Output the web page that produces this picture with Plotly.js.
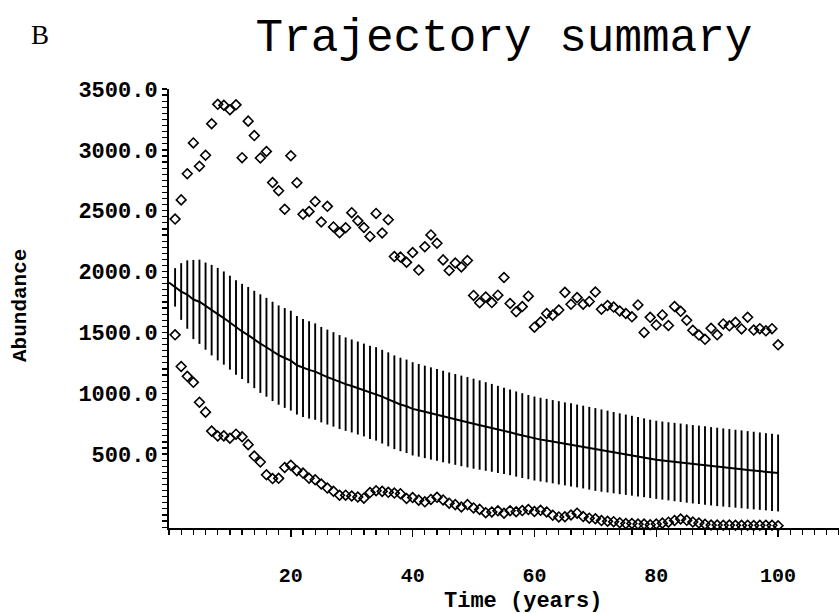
<!DOCTYPE html>
<html>
<head>
<meta charset="utf-8">
<script src="https://cdn.plot.ly/plotly-3.0.1.min.js"></script>
<style>html,body{margin:0;padding:0;background:#fff;}#chart{width:839px;height:613px;}</style>
</head>
<body>
<div id="chart"></div>
<script>
// Years for the mean trajectory (t = 0..100) and for the extremes (t = 1..100)
const yearsMean = Array.from({length: 101}, (_, i) => i);
const yearsExt = Array.from({length: 100}, (_, i) => i + 1);

// Mean abundance, t = 0..100
const meanAbundance = [
  1910, 1870, 1836, 1811, 1770, 1752, 1716, 1683, 1650, 1618,
  1580, 1540, 1508, 1478, 1442, 1408, 1378, 1344, 1314, 1290,
  1268, 1230, 1208, 1192, 1178, 1153, 1133, 1114, 1092, 1075,
  1060, 1043, 1027, 1008, 995, 972, 950, 926, 908, 893,
  872, 860, 847, 834, 822, 809, 797, 785, 773, 762,
  750, 739, 727, 716, 703, 691, 679, 665, 652, 640,
  628, 619, 611, 602, 593, 584, 576, 567, 558, 548,
  538, 529, 521, 512, 503, 495, 487, 478, 470, 461,
  453, 447, 441, 435, 429, 423, 417, 412, 406, 400,
  395, 390, 385, 380, 375, 370, 365, 360, 355, 350,
  345
];

// Standard deviation (error bar half-length), t = 0..100
const sdAbundance = [
  0, 158, 233, 281, 325, 346, 358, 372, 380, 383,
  386, 388, 391, 395, 400, 405, 406, 408, 408, 410,
  410, 405, 402, 400, 396, 392, 390, 388, 386, 384,
  382, 382, 381, 383, 384, 385, 386, 385, 384, 384,
  383, 381, 380, 379, 377, 376, 374, 373, 372, 371,
  370, 367, 364, 361, 358, 355, 352, 350, 348, 346,
  345, 344, 343, 342, 342, 341, 341, 340, 340, 340,
  340, 338, 336, 334, 332, 330, 328, 326, 324, 322,
  321, 321, 321, 322, 322, 322, 322, 322, 322, 322,
  322, 321, 321, 320, 320, 319, 319, 318, 317, 317,
  316
];

// Maximum abundance over trajectories, t = 1..100
const maxAbundance = [
  2431, 2589, 2804, 3057, 2865, 2956, 3215, 3374, 3367, 3329,
  3370, 2936, 3236, 3117, 2933, 2987, 2731, 2664, 2512, 2952,
  2730, 2471, 2494, 2576, 2407, 2536, 2367, 2319, 2360, 2484,
  2417, 2362, 2289, 2478, 2317, 2426, 2124, 2119, 2076, 2156,
  2012, 2204, 2301, 2233, 2096, 2009, 2070, 2038, 2091, 1804,
  1744, 1791, 1745, 1806, 1951, 1738, 1670, 1712, 1798, 1543,
  1585, 1655, 1642, 1684, 1829, 1731, 1786, 1732, 1754, 1832,
  1690, 1721, 1708, 1676, 1655, 1628, 1726, 1500, 1624, 1561,
  1644, 1557, 1713, 1673, 1600, 1518, 1478, 1443, 1534, 1480,
  1570, 1554, 1583, 1529, 1625, 1519, 1531, 1513, 1531, 1398
];

// Minimum abundance over trajectories, t = 1..100
const minAbundance = [
  1480, 1220, 1139, 1090, 926, 845, 689, 649, 650, 631,
  664, 643, 578, 484, 435, 330, 299, 301, 390, 409,
  364, 344, 302, 289, 254, 221, 195, 162, 163, 156,
  148, 138, 184, 199, 194, 186, 180, 175, 135, 143,
  122, 108, 128, 145, 124, 97, 85, 66, 85, 58,
  46, 19, 25, 34, 15, 35, 27, 36, 45, 29,
  38, 25, -2, -16, -15, 0, 15, -13, -26, -31,
  -46, -52, -55, -64, -71, -70, -75, -75, -80, -74,
  -67, -59, -45, -33, -44, -58, -66, -76, -83, -82,
  -84, -83, -85, -85, -84, -86, -85, -84, -84, -88
];

const yTickVals = [500, 1000, 1500, 2000, 2500, 3000, 3500];
const yTickText = ['500.0', '1000.0', '1500.0', '2000.0', '2500.0', '3000.0', '3500.0'];
const xTickVals = [20, 40, 60, 80, 100];
const xTickText = ['20', '40', '60', '80', '100'];

const monoFont = 'Liberation Mono, Courier New, monospace';

const traces = [
  {
    x: yearsMean, y: meanAbundance, type: 'scatter', mode: 'lines',
    line: {color: '#000', width: 2},
    error_y: {type: 'data', array: sdAbundance, visible: true, color: '#000', thickness: 1.9, width: 0},
    hoverinfo: 'x+y'
  },
  {
    x: yearsExt, y: maxAbundance, type: 'scatter', mode: 'markers', cliponaxis: false,
    marker: {symbol: 'diamond-open', size: 7.5, color: '#000', line: {color: '#000', width: 1.6}}
  },
  {
    x: yearsExt, y: minAbundance, type: 'scatter', mode: 'markers', cliponaxis: false,
    marker: {symbol: 'diamond-open', size: 7.5, color: '#000', line: {color: '#000', width: 1.6}}
  }
];

const layout = {
  width: 839, height: 613,
  margin: {l: 169, r: 0, t: 89, b: 85},
  paper_bgcolor: '#fff', plot_bgcolor: '#fff',
  showlegend: false,
  title: {
    text: 'Trajectory summary', xref: 'paper', x: 0.5, xanchor: 'center',
    yref: 'container', y: 1 - 35 / 613, yanchor: 'middle',
    font: {family: monoFont, size: 46, color: '#000'}
  },
  xaxis: {
    range: [0, 110], showgrid: false, zeroline: false,
    showline: true, linecolor: '#000', linewidth: 2,
    ticks: 'outside', ticklen: 7, tickwidth: 1.5, tickcolor: '#000',
    tickmode: 'array', tickvals: xTickVals, ticktext: xTickText,
    ticklabelstandoff: 21,
    minor: {tickmode: 'linear', tick0: 0, dtick: 2, ticks: 'outside', ticklen: 5, tickwidth: 1.2, tickcolor: '#000', showgrid: false},
    tickfont: {family: monoFont, size: 20, color: '#000', weight: 'bold'}
  },
  yaxis: {
    range: [-107, 3500], showgrid: false, zeroline: false,
    showline: true, linecolor: '#000', linewidth: 2,
    ticks: 'outside', ticklen: 5, tickwidth: 1.5, tickcolor: '#000',
    tickmode: 'array', tickvals: yTickVals, ticktext: yTickText,
    ticklabelstandoff: 0,
    minor: {tickmode: 'linear', tick0: 0, dtick: 50, ticks: 'outside', ticklen: 5, tickwidth: 1.2, tickcolor: '#000', showgrid: false},
    tickfont: {family: monoFont, size: 22, color: '#000', weight: 'bold'}
  },
  annotations: [
    {text: 'B', xref: 'paper', yref: 'paper', x: (40 - 169) / 670, y: (528 - 35) / 439,
     xanchor: 'center', yanchor: 'middle', showarrow: false,
     font: {family: 'Liberation Serif, Times New Roman, serif', size: 27, color: '#000'}},
    {text: 'Time (years)', xref: 'paper', yref: 'paper', x: (523 - 169) / 670, y: (528 - 601) / 439,
     xanchor: 'center', yanchor: 'middle', showarrow: false,
     font: {family: monoFont, size: 22, color: '#000', weight: 'bold'}},
    {text: 'Abundance', xref: 'paper', yref: 'paper', x: (20 - 169) / 670, y: (528 - 306) / 439,
     xanchor: 'center', yanchor: 'middle', showarrow: false, textangle: -90,
     font: {family: monoFont, size: 21, color: '#000', weight: 'bold'}}
  ]
};

Plotly.newPlot('chart', traces, layout, {displayModeBar: false, staticPlot: true});
</script>
</body>
</html>
